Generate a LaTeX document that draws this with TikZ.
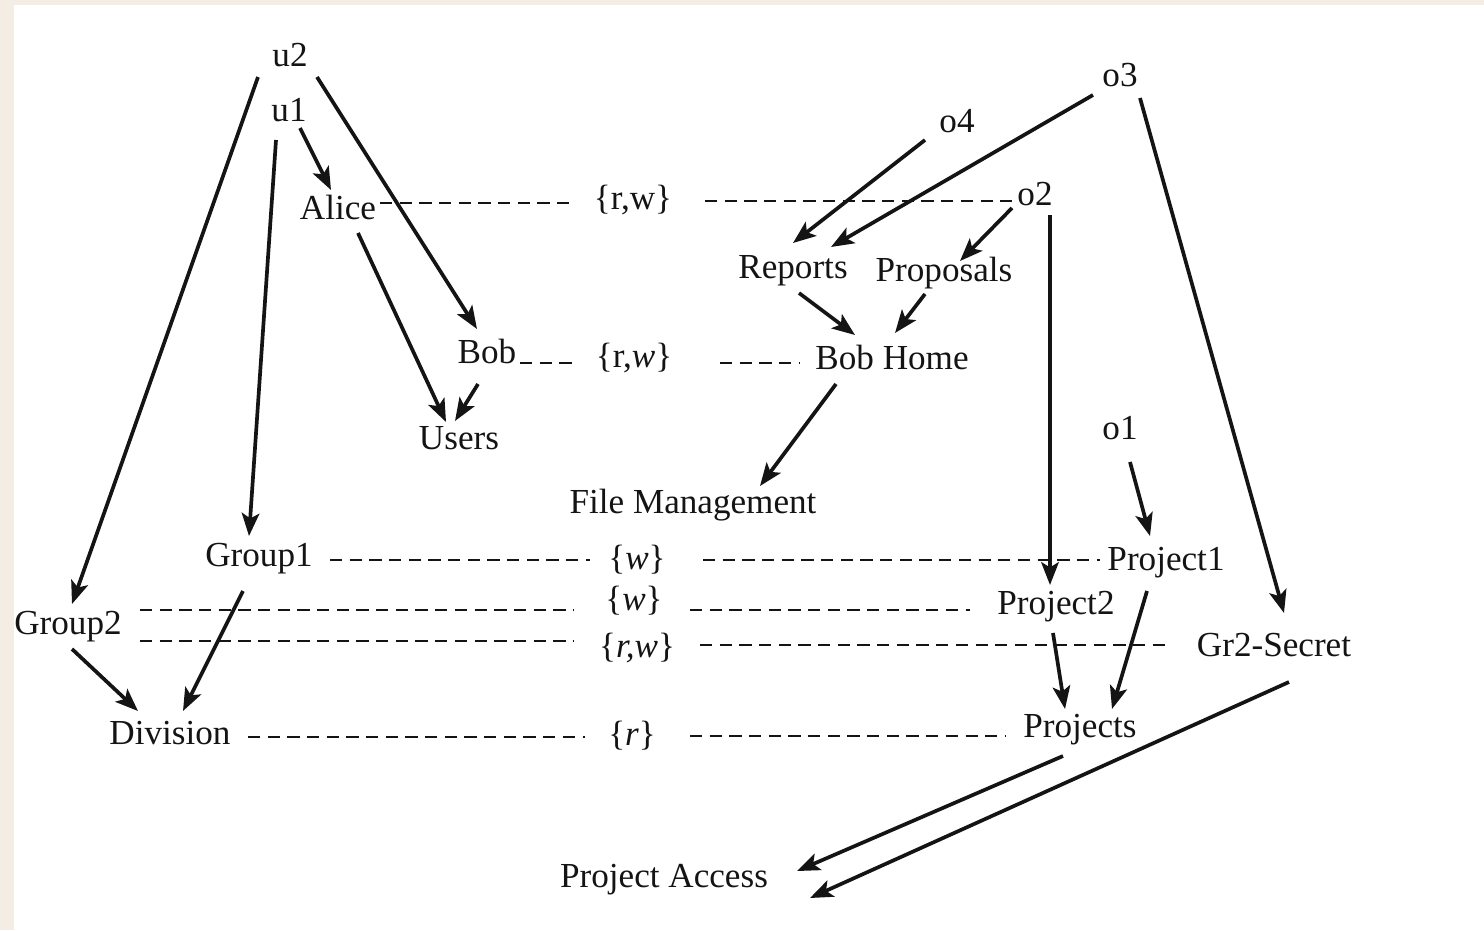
\documentclass[tikz,border=0pt]{standalone}
\usepackage{fontspec}
\setmainfont{Liberation Serif}
\usetikzlibrary{arrows.meta,calc}
\definecolor{paper}{RGB}{243,237,228}
\definecolor{ink}{RGB}{20,20,20}
\begin{document}
\begin{tikzpicture}[x=0.02cm,y=-0.02cm,
  lbl/.style={inner sep=0pt,text=ink,font=\fontsize{20}{24}\selectfont},
  arr/.style={draw=ink,line width=2.1pt,-{Stealth[length=13pt,width=10pt,inset=3pt]}},
  dl/.style={draw=ink,line width=1.4pt,dash pattern=on 7pt off 4.2pt}]
% page and margin strip
\fill[paper] (0,0) rectangle (1484,930);
\fill[white] (14,5) rectangle (1484,930);
\useasboundingbox (0,0) rectangle (1484,930);

% subjects
\node[lbl] (u2) at (290,55) {u2};
\node[lbl] (u1) at (289,110) {u1};
\node[lbl] (alice) at (338,207) {Alice};
\node[lbl] (bob) at (487,351) {Bob};
\node[lbl] (users) at (459,438) {Users};
\node[lbl] (group1) at (259,559) {Group1};
\node[lbl] (group2) at (68,627) {Group2};
\node[lbl] (division) at (170,733) {Division};

% objects
\node[lbl] (o3) at (1120,75) {o3};
\node[lbl] (o4) at (957,121) {o4};
\node[lbl] (o2) at (1035,194) {o2};
\node[lbl] (reports) at (793,271) {Reports};
\node[lbl] (proposals) at (944,273) {Proposals};
\node[lbl] (bobhome) at (892,357) {Bob Home};
\node[lbl] (o1) at (1120,428) {o1};
\node[lbl] (fm) at (693,505) {File Management};
\node[lbl] (project1) at (1166,563) {Project1};
\node[lbl] (project2) at (1056,607) {Project2};
\node[lbl] (gr2) at (1274,645) {Gr2-Secret};
\node[lbl] (projects) at (1080,730) {Projects};
\node[lbl] (pa) at (664,880) {Project Access};

% access rights
\node[lbl] (rw1) at (633,200) {\{r,w\}};
\node[lbl] (rw2) at (634,358) {\{r,\textit{w}\}};
\node[lbl] (w1) at (637,560) {\{\textit{w}\}};
\node[lbl] (w2) at (634,601) {\{\textit{w}\}};
\node[lbl] (rw3) at (637,648) {\{\textit{r,w}\}};
\node[lbl] (r1) at (632,736) {\{\textit{r}\}};

% subject hierarchy
\draw[arr] ($(u2)+(-32,22)$) -- ($(group2)+(4,-23)$);
\draw[arr] ($(u2)+(27,22)$) -- ($(bob)+(-10,-22)$);
\draw[arr] ($(u1)+(11,18)$) -- ($(alice)+(-7,-17)$);
\draw[arr] ($(u1)+(-13,30)$) -- ($(group1)+(-10,-23)$);
\draw[arr] ($(alice)+(20,26)$) -- ($(users)+(-13,-16)$);
\draw[arr] ($(bob)+(-9,33)$) -- ($(users)+(-4,-17)$);
\draw[arr] ($(group1)+(-16,32)$) -- ($(division)+(13,-22)$);
\draw[arr] ($(group2)+(4,22)$) -- ($(division)+(-32,-22)$);

% object hierarchy
\draw[arr] ($(o4)+(-32,19)$) -- ($(reports)+(0,-28)$);
\draw[arr] ($(o3)+(-27,20)$) -- ($(reports)+(38,-24)$);
\draw[arr] ($(o3)+(20,23)$) -- ($(gr2)+(10,-32)$);
\draw[arr] ($(o2)+(-23,14)$) -- ($(proposals)+(16,-12)$);
\draw[arr] ($(o2)+(15,21)$) -- ($(project2)+(-6,-22)$);
\draw[arr] ($(reports)+(6,22)$) -- ($(bobhome)+(-37,-22)$);
\draw[arr] ($(proposals)+(-19,21)$) -- ($(bobhome)+(3,-24)$);
\draw[arr] ($(bobhome)+(-56,27)$) -- ($(fm)+(67,-19)$);
\draw[arr] ($(o1)+(10,34)$) -- ($(project1)+(-16,-27)$);
\draw[arr] ($(project2)+(-3,26)$) -- ($(projects)+(-15,-21)$);
\draw[arr] ($(project1)+(-19,28)$) -- ($(projects)+(32,-21)$);
\draw[arr] ($(projects)+(-17,26)$) -- ($(pa)+(133,-9)$);
\draw[arr] ($(gr2)+(15,37)$) -- ($(pa)+(146,18)$);

% permission links
\draw[dl] ($(alice)+(42,-4)$) -- ($(rw1)+(-63,3)$);
\draw[dl] ($(rw1)+(72,1)$) -- ($(o2)+(-20,7)$);
\draw[dl] ($(bob)+(33,12)$) -- ($(rw2)+(-61,5)$);
\draw[dl] ($(rw2)+(86,5)$) -- ($(bobhome)+(-92,6)$);
\draw[dl] ($(group1)+(71,1)$) -- ($(w1)+(-47,0)$);
\draw[dl] ($(w1)+(66,0)$) -- ($(project1)+(-66,-3)$);
\draw[dl] ($(group2)+(72,-17)$) -- ($(w2)+(-61,9)$);
\draw[dl] ($(w2)+(56,9)$) -- ($(project2)+(-86,3)$);
\draw[dl] ($(group2)+(72,14)$) -- ($(rw3)+(-64,-7)$);
\draw[dl] ($(rw3)+(63,-3)$) -- ($(gr2)+(-104,0)$);
\draw[dl] ($(division)+(78,4)$) -- ($(r1)+(-47,1)$);
\draw[dl] ($(r1)+(58,0)$) -- ($(projects)+(-75,6)$);
\end{tikzpicture}
\end{document}
